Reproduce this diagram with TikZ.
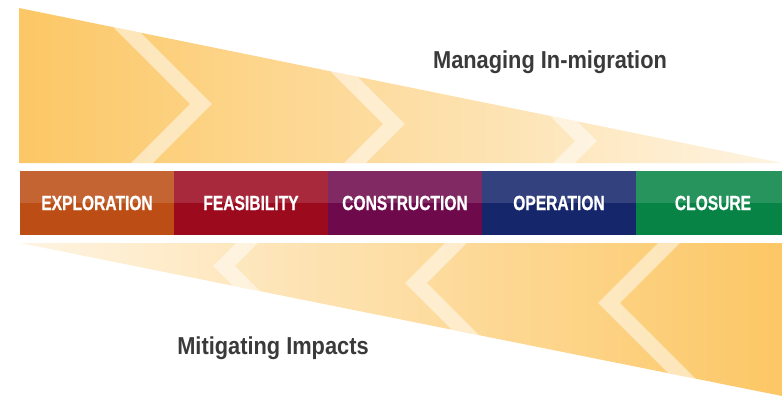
\documentclass[tikz,border=0pt]{standalone}
\usepackage{fontspec}
\setmainfont{Liberation Sans}
\newfontfamily\labelfont[FakeStretch=0.76, FakeBold=0.6]{Liberation Sans Bold}
\newfontfamily\titlefont[FakeStretch=0.89]{Liberation Sans}
\usetikzlibrary{positioning}

\definecolor{ambar}{HTML}{FCC765}
\definecolor{ambarclaro}{HTML}{FEF4E2}
\definecolor{explor}{HTML}{BC4E15}
\definecolor{factib}{HTML}{9C0A1E}
\definecolor{constr}{HTML}{6E0A4C}
\definecolor{operac}{HTML}{15266B}
\definecolor{cierre}{HTML}{078345}
\definecolor{gris}{HTML}{3A3A3A}

\begin{document}
\begin{tikzpicture}[x=1pt, y=-1pt,
  fase/.style={fill=#1, minimum width=154pt, minimum height=64pt,
               inner sep=0pt, outer sep=0pt, text=white, font=\labelfont\fontsize{20.5}{22}\selectfont,
               path picture={\fill[white, opacity=0.13] (path picture bounding box.north west)
                             rectangle (path picture bounding box.east);}},
  chevron/.style={draw=white, draw opacity=0.5, line width=15.5pt, miter limit=10},
  titulo/.style={text=gris, font=\titlefont\bfseries\fontsize{24.5}{26}\selectfont}]
  \useasboundingbox (0,0) rectangle (782,396);
  % cuña superior
  \begin{scope}
    \clip (19,8) -- (782,163) -- (19,163) -- cycle;
    \shade[left color=ambar, right color=ambarclaro] (19,8) rectangle (782,163);
    \draw[chevron] (101,4) -- (201,104) -- (101,204);
    \draw[chevron] (294,24) -- (394,124) -- (294,224);
    \draw[chevron] (486,41) -- (586,141) -- (486,241);
  \end{scope}
  % cuña inferior
  \begin{scope}
    \clip (20,243) -- (782,243) -- (782,396) -- cycle;
    \shade[left color=ambarclaro, right color=ambar] (20,243) rectangle (782,396);
    \draw[chevron] (324,166) -- (224,266) -- (324,366);
    \draw[chevron] (516,183) -- (416,283) -- (516,383);
    \draw[chevron] (709,203) -- (609,303) -- (709,403);
  \end{scope}
  % fases
  \node[fase=explor, anchor=north west] (expl) at (20,171) {EXPLORATION};
  \node[fase=factib, right=0pt of expl] (fact) {FEASIBILITY};
  \node[fase=constr, right=0pt of fact] (cons) {CONSTRUCTION};
  \node[fase=operac, right=0pt of cons] (oper) {OPERATION};
  \node[fase=cierre, right=0pt of oper] (cier) {CLOSURE};
  % títulos
  \node[titulo] (migr) at (550,62) {Managing In-migration};
  \node[titulo] (mitig) at (273,348) {Mitigating Impacts};
\end{tikzpicture}
\end{document}
